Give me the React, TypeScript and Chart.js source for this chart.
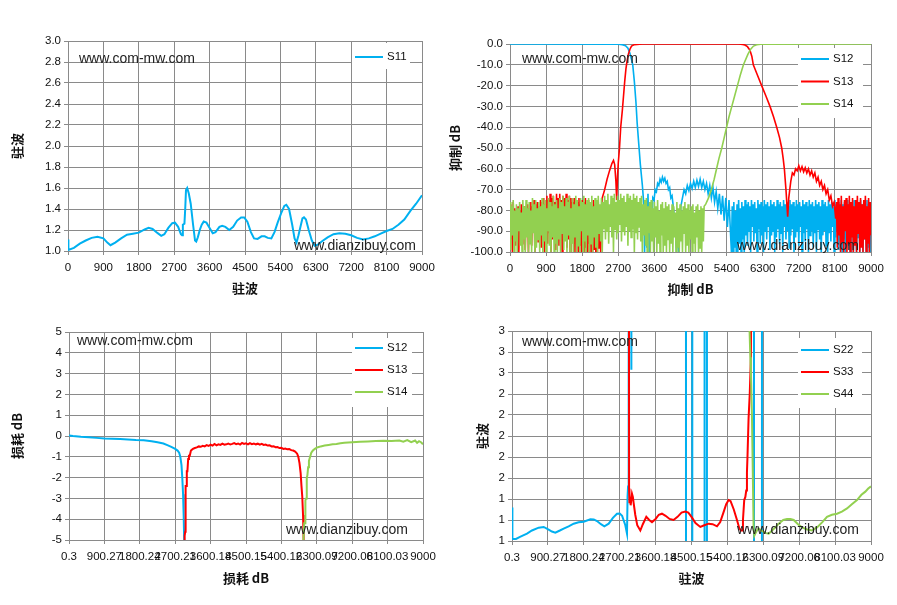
import { useEffect, useRef } from "react";
import { Chart, registerables } from "chart.js";
import type { ChartConfiguration, Plugin } from "chart.js";

Chart.register(...registerables);
Chart.defaults.font.family = '"Liberation Sans", Arial, sans-serif';
Chart.defaults.font.size = 11.5;
Chart.defaults.color = "#111";

const BLUE = "#00B0F0";
const RED = "#FF0000";
const GREEN = "#92D050";
const GRID = "#8A8A8A";
const TITLE_FONT = { family: '"Noto Sans CJK SC", sans-serif', size: 13, weight: "bold" as const };

// tick labels
const mhzLabels = ["0", "900", "1800", "2700", "3600", "4500", "5400", "6300", "7200", "8100", "9000"];
const lossFreqLabels = ["0.3", "900.27", "1800.24", "2700.21", "3600.18", "4500.15", "5400.12", "6300.09", "7200.06", "8100.03", "9000"];
const vswrLabels = ["1", "1", "1", "2", "2", "2", "2", "2", "3", "3", "3"];

// panel 1: S11 vswr  [MHz, vswr]
const s11Vswr = [
  [0, 1.11], [10, 1.01], [150, 1.03], [300, 1.07], [450, 1.1], [600, 1.125], [750, 1.135], [900, 1.12],
  [1000, 1.08], [1080, 1.055], [1200, 1.08], [1350, 1.12], [1500, 1.155], [1650, 1.165], [1800, 1.175],
  [1950, 1.205], [2050, 1.22], [2150, 1.21], [2280, 1.17], [2370, 1.145], [2450, 1.16], [2550, 1.22],
  [2650, 1.265], [2720, 1.27], [2800, 1.23], [2870, 1.16], [2900, 1.15], [2920, 1.25], [2960, 1.26],
  [2980, 1.4], [3000, 1.58], [3030, 1.6], [3070, 1.55], [3120, 1.45], [3180, 1.25], [3230, 1.1],
  [3260, 1.09], [3300, 1.13], [3350, 1.2], [3400, 1.25], [3450, 1.28], [3520, 1.27], [3600, 1.22],
  [3680, 1.17], [3750, 1.18], [3850, 1.23], [3920, 1.24], [4000, 1.23], [4100, 1.2], [4200, 1.23],
  [4300, 1.29], [4400, 1.32], [4480, 1.32], [4560, 1.28], [4650, 1.18], [4730, 1.12], [4820, 1.115],
  [4920, 1.14], [5000, 1.14], [5080, 1.125], [5170, 1.12], [5250, 1.18], [5330, 1.27], [5420, 1.36],
  [5500, 1.43], [5550, 1.44], [5620, 1.4], [5700, 1.25], [5760, 1.12], [5810, 1.08], [5860, 1.15],
  [5910, 1.23], [5960, 1.31], [6000, 1.32], [6050, 1.3], [6120, 1.2], [6200, 1.1], [6270, 1.05],
  [6350, 1.06], [6450, 1.09], [6600, 1.13], [6750, 1.16], [6900, 1.17], [7050, 1.165], [7200, 1.15],
  [7350, 1.125], [7500, 1.11], [7650, 1.12], [7800, 1.14], [7950, 1.165], [8100, 1.19], [8250, 1.21],
  [8400, 1.25], [8550, 1.3], [8700, 1.38], [8850, 1.45], [9000, 1.53],
];

// panel 2: rejection dB
const rejS12Edge = [
  [0, 0], [2700, -0.1], [2800, -0.3], [2880, -0.8], [2940, -2], [2990, -4.5], [3030, -7.5], [3060, -10],
  [3100, -18], [3140, -28], [3170, -38], [3210, -48], [3250, -58], [3300, -68], [3340, -78], [3355, -100],
];
const rejS12Spurs = [-76, -98, -72, -100, -78, -92, -74]; // from 3380, 30 MHz apart
const rejS12Lobe1 = [-75, -70, -71, -67, -68, -65, -66.5, -64, -66, -64.5, -67, -66, -70, -69, -74, -73, -78]; // from 3590, 30 MHz
const rejS12Null = [[4110, -85], [4150, -100], [4180, -90], [4210, -100], [4260, -78]];
const rejS12Lobe2 = [
  -74, -70, -72, -68, -70.5, -67, -69.5, -66, -69, -65.5, -68.5, -65, -69, -66, -70, -67, -72, -68, -74, -69,
  -76, -71, -79, -72, -82, -73, -85, -74, -88, -75, -92,
]; // from 4300, 40 MHz
const rejS12Floor = [
  -100, -78, -100, -76, -98, -80, -100, -77, -100, -75, -96, -79, -100, -76, -94, -78, -100, -75, -92, -77,
  -97, -76, -90, -78, -100, -75, -88, -77, -95, -76, -91, -79, -100, -75, -89, -77, -96, -76, -92, -78,
  -100, -75, -90, -77, -94, -76, -88, -78, -99, -75, -92, -77, -90, -76, -100, -78, -93, -75, -89, -77,
  -96, -76, -91, -78, -100, -75, -88, -77, -94, -76, -90, -78, -98, -75, -92, -77, -89, -76, -100, -78,
  -93, -75, -90, -77, -97, -76, -88, -78, -100, -75, -91, -77, -95, -76, -89, -78, -100, -75, -92, -77,
  -90, -76, -98, -78, -91, -75, -100, -77, -89, -76, -94, -78, -100, -75, -92, -77, -90, -76, -97, -78,
  -100, -75, -91, -77, -95, -76, -88, -78, -100, -75, -93, -77, -90, -76, -99, -78, -92, -75, -100, -77,
  -94, -76, -100, -78, -91, -75, -97, -77, -100, -76, -92, -78, -100, -75, -95, -77, -100, -76, -93, -78,
  -100, -75, -97, -77, -100, -76, -94, -78, -100, -75, -98, -77, -100, -76, -100,
]; // from 5520, 20 MHz

const rejS13Floor = [
  -77, -94, -80, -100, -76, -89, -79, -97, -81, -92, -78, -100, -80, -90, -77, -96, -79, -88, -78, -99,
  -80, -91, -77, -100, -79, -93, -76, -97, -78, -89, -75, -100, -77, -92, -76, -95, -78, -90, -75, -98,
  -76, -93, -74, -100, -77, -90, -73, -96, -75, -91, -72, -100, -74, -94, -73, -89, -76, -99, -72, -92,
  -74, -97, -72, -90, -75, -100, -73, -93, -74, -88, -72, -98, -75, -94, -73, -100, -74, -91, -76, -96,
  -74, -100, -75, -93, -76, -100, -74, -97, -77, -100, -75, -95, -76, -100, -74, -98, -77, -100, -75, -96,
  -76, -100, -78, -100, -75, -99, -77, -100, -79, -100, -76, -98, -78, -100, -80,
]; // from 0, 20 MHz
const rejS13Band = [
  [2300, -74], [2360, -70], [2420, -65], [2480, -61], [2540, -57.5], [2580, -56], [2610, -58], [2640, -66],
  [2660, -75], [2680, -64], [2700, -57], [2730, -50], [2760, -40], [2800, -32], [2830, -25], [2860, -18],
  [2890, -12], [2920, -8], [2950, -5], [2990, -2.5], [3030, -1], [3100, -0.3], [3300, 0], [5700, 0],
  [5800, -0.2], [5858, -0.5], [5920, -1.3], [5983, -3], [6030, -6], [6066, -10], [6170, -15], [6274, -20],
  [6380, -25], [6482, -30], [6570, -35], [6649, -40], [6720, -45], [6774, -50], [6810, -55], [6840, -60],
  [6880, -70], [6923, -83], [6950, -74], [6975, -70],
];
const rejS13Lobe = [
  -66, -62, -63, -60, -61, -58.5, -61, -59, -61.5, -59.5, -62, -60, -63, -61, -64, -62, -66, -64, -68, -66,
  -70, -68, -72, -70, -75, -73, -78, -76,
]; // from 7000, 40 MHz
const rejS13Tail = [
  -84, -76, -98, -74, -92, -77, -100, -73, -95, -78, -100, -75, -90, -74, -100, -77, -96, -73, -100, -76,
  -93, -74, -100, -78, -97, -75, -100, -73, -91, -76, -100, -74, -98, -77, -100, -75, -94, -73, -100, -78,
  -96, -74, -100, -76, -92,
]; // from 8120, 20 MHz

const rejS14Floor = [
  -76, -99, -78, -92, -75, -100, -80, -95, -77, -100, -79, -90, -76, -97, -81, -100, -75, -94, -78, -100,
  -75, -93, -79, -100, -76, -96, -80, -100, -74, -91, -77, -100, -75, -98, -79, -94, -76, -100, -78, -92,
  -74, -100, -77, -95, -75, -100, -79, -90, -74, -97, -76, -100, -78, -93, -73, -100, -77, -96, -75, -100,
  -79, -94, -74, -100, -76, -91, -73, -99, -78, -95, -74, -100, -76, -92, -73, -100, -79, -96, -74, -100,
  -77, -93, -73, -100, -75, -97, -78, -100, -74, -90, -76, -100, -73, -95, -77, -100, -75, -92, -74, -100,
  -76, -96, -73, -100, -78, -93, -74, -98, -75, -100, -73, -91, -77, -95, -74, -100, -76, -89, -73, -94,
  -75, -90, -72, -96, -77, -88, -73, -93, -74, -100, -72, -89, -76, -94, -73, -91, -75, -87, -72, -95,
  -74, -90, -73, -92, -76, -88, -72, -97, -74, -90, -73, -93, -75, -89, -72, -100, -74, -91, -73, -94,
  -76, -88, -74, -95, -73, -100, -77, -92, -75, -97, -74, -100, -78, -91, -76, -100, -75, -95, -79, -100,
  -76, -93, -78, -100, -75, -96, -80, -100, -77, -92, -76, -100, -79, -97, -76, -100, -78, -94, -77, -100,
  -80, -96, -77, -100, -78, -93, -81, -100, -76, -98, -79, -100, -77, -95, -80, -100, -78, -91, -76, -100,
  -79, -97, -77, -100, -80, -94, -78, -100, -77, -96, -81, -100, -78, -93, -77, -100, -80, -98, -78, -100,
  -79, -95, -78,
]; // from 0, 20 MHz
const rejS14Edge = [
  [4880, -77], [4950, -74], [5020, -70], [5090, -65], [5150, -60], [5210, -55], [5280, -50], [5340, -45],
  [5400, -40], [5460, -35], [5530, -30], [5600, -25], [5670, -20], [5740, -15], [5820, -10], [5930, -5],
  [6000, -2.5], [6070, -1], [6150, -0.4], [6250, -0.1], [9000, 0],
];

// panel 3: insertion loss dB
const lossS12 = [
  [0, 0.03], [100, 0], [300, -0.04], [500, -0.06], [700, -0.09], [900, -0.12], [1100, -0.13], [1300, -0.15],
  [1500, -0.17], [1700, -0.19], [1900, -0.2], [2100, -0.25], [2250, -0.3], [2400, -0.36], [2500, -0.44],
  [2600, -0.52], [2700, -0.62], [2760, -0.7], [2800, -0.8], [2830, -1.0], [2860, -1.4], [2880, -2.0],
  [2900, -2.8], [2915, -3.8], [2930, -5.2], [2940, -6],
];
const lossS13 = [
  [2925, -6], [2940, -4.8], [2955, -4.6], [2965, -2.4], [2985, -2.4], [2995, -1.7], [3010, -1.7], [3030, -1.1],
  [3050, -0.95], [3070, -0.95], [3100, -0.7], [3150, -0.62], [3200, -0.58], [3250, -0.55], [3300, -0.5],
  [3350, -0.52], [3400, -0.47], [3450, -0.5], [3500, -0.44], [3550, -0.48], [3600, -0.42], [3650, -0.46],
  [3700, -0.38], [3750, -0.45], [3800, -0.4], [3850, -0.43], [3900, -0.37], [3950, -0.42], [4000, -0.4],
  [4050, -0.36], [4100, -0.41], [4150, -0.38], [4200, -0.34], [4250, -0.39], [4300, -0.36], [4350, -0.41],
  [4400, -0.33], [4450, -0.38], [4500, -0.35], [4550, -0.4], [4600, -0.34], [4650, -0.39], [4700, -0.36],
  [4750, -0.4], [4800, -0.37], [4850, -0.42], [4900, -0.38], [4950, -0.43], [5000, -0.41], [5050, -0.46],
  [5100, -0.45], [5150, -0.5], [5200, -0.49], [5250, -0.54], [5300, -0.53], [5350, -0.58], [5400, -0.57],
  [5450, -0.62], [5500, -0.6], [5550, -0.64], [5600, -0.63], [5650, -0.68], [5700, -0.7], [5750, -0.75],
  [5800, -0.85], [5830, -1.0], [5860, -1.3], [5890, -1.8], [5910, -2.4], [5930, -2.9], [5950, -3.8],
  [5965, -5], [5975, -6],
];
const lossS14 = [
  [5940, -6], [5960, -5], [5980, -4.2], [6000, -4.2], [6010, -3.1], [6030, -3.0], [6045, -2.0], [6060, -1.9],
  [6080, -1.5], [6100, -1.2], [6130, -1.0], [6160, -0.8], [6200, -0.7], [6250, -0.62], [6300, -0.56],
  [6350, -0.53], [6400, -0.5], [6500, -0.46], [6600, -0.43], [6700, -0.4], [6800, -0.38], [6900, -0.35],
  [7000, -0.33], [7100, -0.31], [7200, -0.3], [7400, -0.28], [7600, -0.26], [7800, -0.24], [8000, -0.23],
  [8200, -0.24], [8400, -0.22], [8500, -0.27], [8600, -0.2], [8700, -0.3], [8800, -0.22], [8850, -0.33],
  [8900, -0.25], [8950, -0.3], [9000, -0.4],
];

// panel 4: port vswr (values outside 1..3 run off the plot)
const vswrS22 = [
  [0, 1.32], [10, 1.02], [100, 1.02], [200, 1.04], [376, 1.07], [500, 1.1], [669, 1.127], [794, 1.134],
  [919, 1.108], [1000, 1.09], [1086, 1.08], [1200, 1.1], [1295, 1.118], [1420, 1.14], [1546, 1.165],
  [1670, 1.178], [1797, 1.184], [1964, 1.207], [2050, 1.205], [2131, 1.19], [2230, 1.16], [2315, 1.14],
  [2424, 1.165], [2530, 1.22], [2632, 1.26], [2700, 1.262], [2760, 1.24], [2841, 1.15], [2883, 1.07],
  [2897, 1.42], [2910, 1.52], [2925, 9], [2985, 9], [2990, 2.63], [2995, 9], [4360, 9], [4362, 0.5],
  [4518, 0.5], [4520, 9], [4826, 9], [4828, 0.5], [4887, 0.5], [4889, 9], [6065, 9], [6067, 0.5],
  [6266, 0.5], [6268, 9], [9000, 9],
];
const vswrS33 = [
  [2925, 9], [2935, 1.5], [2945, 1.36], [2960, 1.42], [2975, 1.34], [3008, 1.45], [3030, 1.42], [3050, 1.36],
  [3090, 1.25], [3140, 1.15], [3217, 1.1], [3280, 1.16], [3367, 1.23], [3440, 1.2], [3509, 1.18], [3600, 1.21],
  [3680, 1.25], [3759, 1.26], [3850, 1.24], [3950, 1.21], [4051, 1.2], [4150, 1.23], [4250, 1.27], [4344, 1.28],
  [4420, 1.27], [4500, 1.23], [4600, 1.17], [4721, 1.134], [4820, 1.15], [4930, 1.165], [5030, 1.16],
  [5139, 1.14], [5220, 1.18], [5300, 1.27], [5370, 1.35], [5430, 1.39], [5480, 1.38], [5560, 1.3], [5640, 1.2],
  [5700, 1.12], [5740, 1.1], [5770, 1.1], [5790, 1.2], [5822, 1.39], [5850, 1.42], [5872, 1.48], [5890, 1.65],
  [5905, 1.82], [5931, 2.17], [5960, 2.4], [5990, 2.75], [6015, 9],
];
const vswrS44 = [
  [5940, 9], [5956, 3.0], [5975, 2.75], [5990, 2.6], [6015, 2.2], [6035, 1.7], [6057, 1.12], [6075, 1.05],
  [6100, 1.07], [6140, 1.1], [6184, 1.12], [6250, 1.1], [6310, 1.086], [6370, 1.075], [6435, 1.07], [6520, 1.1],
  [6602, 1.13], [6700, 1.17], [6800, 1.2], [6895, 1.21], [6980, 1.21], [7062, 1.2], [7170, 1.16], [7271, 1.13],
  [7400, 1.11], [7521, 1.1], [7600, 1.12], [7647, 1.13], [7780, 1.18], [7897, 1.23], [8020, 1.25], [8148, 1.26],
  [8270, 1.28], [8399, 1.31], [8520, 1.35], [8649, 1.39], [8760, 1.44], [8858, 1.47], [8930, 1.5], [9000, 1.52],
];

type Pt = { x: number; y: number };
const toPoints = (pairs: number[][]): Pt[] => pairs.map(([x, y]) => ({ x, y }));
const onGrid = (start: number, step: number, values: number[]): Pt[] =>
  values.map((y, i) => ({ x: start + i * step, y }));

interface Line { label: string; color: string; points: Pt[] }
interface Mark { text: string; fromRight: boolean; dx: number; fromBottom: boolean; dy: number }
interface PanelSpec {
  left: number; top: number; width: number; height: number;
  area: { left: number; top: number; right: number; bottom: number };
  lines: Line[];
  lineWidth: number;
  yMin: number; yMax: number; yStep: number;
  yTick: (v: number, i: number) => string;
  xTick: (i: number) => string;
  title: string;
  yTitlePad: number; xTitlePad: number;
  legend: { dx: number; dy: number; w: number; h: number; row0: number; gap: number };
  marks: Mark[];
}

const topMark = (dx: number, dy: number): Mark => ({ text: "www.com-mw.com", fromRight: false, dx, fromBottom: false, dy });
const bottomMark = (dx: number, dy: number): Mark => ({ text: "www.dianzibuy.com", fromRight: true, dx, fromBottom: true, dy });

const panels: PanelSpec[] = [
  {
    left: 0, top: 28, width: 450, height: 277,
    area: { left: 68, top: 13, right: 422, bottom: 223 },
    lines: [{ label: "S11", color: BLUE, points: toPoints(s11Vswr) }],
    lineWidth: 2,
    yMin: 1, yMax: 3, yStep: 0.2,
    yTick: (v) => v.toFixed(1),
    xTick: (i) => mhzLabels[i],
    title: "驻波",
    yTitlePad: 9, xTitlePad: 9,
    legend: { dx: -70, dy: 2, w: 58, h: 26, row0: 14, gap: 22 },
    marks: [topMark(11, 18), bottomMark(-128, -5)],
  },
  {
    left: 440, top: 28, width: 457, height: 277,
    area: { left: 70, top: 16, right: 431, bottom: 224 },
    lines: [
      { label: "S12", color: BLUE, points: [
        ...toPoints(rejS12Edge), ...onGrid(3380, 30, rejS12Spurs), ...onGrid(3590, 30, rejS12Lobe1),
        ...toPoints(rejS12Null), ...onGrid(4300, 40, rejS12Lobe2), ...onGrid(5520, 20, rejS12Floor),
      ] },
      { label: "S13", color: RED, points: [
        ...onGrid(0, 20, rejS13Floor), ...toPoints(rejS13Band), ...onGrid(7000, 40, rejS13Lobe), ...onGrid(8120, 20, rejS13Tail),
      ] },
      { label: "S14", color: GREEN, points: [...onGrid(0, 20, rejS14Floor), ...toPoints(rejS14Edge)] },
    ],
    lineWidth: 1.6,
    yMin: -100, yMax: 0, yStep: 10,
    yTick: (v) => v.toFixed(1),
    xTick: (i) => mhzLabels[i],
    title: "抑制 dB",
    yTitlePad: 7, xTitlePad: 8,
    legend: { dx: -73, dy: 4, w: 65, h: 70, row0: 11, gap: 22.5 },
    marks: [topMark(12, 15), bottomMark(-134, -6)],
  },
  {
    left: 0, top: 318, width: 450, height: 287,
    area: { left: 69, top: 14, right: 423, bottom: 222 },
    lines: [
      { label: "S12", color: BLUE, points: toPoints(lossS12) },
      { label: "S13", color: RED, points: toPoints(lossS13) },
      { label: "S14", color: GREEN, points: toPoints(lossS14) },
    ],
    lineWidth: 2,
    yMin: -5, yMax: 5, yStep: 1,
    yTick: (v) => String(v),
    xTick: (i) => lossFreqLabels[i],
    title: "损耗 dB",
    yTitlePad: 9, xTitlePad: 19,
    legend: { dx: -71, dy: 6, w: 60, h: 69, row0: 10, gap: 22 },
    marks: [topMark(8, 9), bottomMark(-137, -10)],
  },
  {
    left: 450, top: 318, width: 447, height: 287,
    area: { left: 62, top: 13, right: 421, bottom: 223 },
    lines: [
      { label: "S22", color: BLUE, points: toPoints(vswrS22) },
      { label: "S33", color: RED, points: toPoints(vswrS33) },
      { label: "S44", color: GREEN, points: toPoints(vswrS44) },
    ],
    lineWidth: 2,
    yMin: 1, yMax: 3, yStep: 0.2,
    yTick: (_v, i) => vswrLabels[i],
    xTick: (i) => lossFreqLabels[i],
    title: "驻波",
    yTitlePad: 24, xTitlePad: 19,
    legend: { dx: -73, dy: 7, w: 64, h: 70, row0: 12, gap: 22 },
    marks: [topMark(10, 11), bottomMark(-134, -11)],
  },
];

function makeDecor(spec: PanelSpec): Plugin<"line"> {
  return {
    id: "decor",
    afterDraw(chart) {
      const { ctx, chartArea: a } = chart;
      ctx.save();
      ctx.font = '14px "Liberation Sans", Arial, sans-serif';
      ctx.fillStyle = "#222";
      ctx.textBaseline = "middle";
      ctx.textAlign = "left";
      spec.marks.forEach((m) => {
        const x = m.fromRight ? a.right + m.dx : a.left + m.dx;
        const y = m.fromBottom ? a.bottom + m.dy : a.top + m.dy;
        ctx.fillText(m.text, x, y);
      });
      const L = spec.legend;
      const bx = a.right + L.dx;
      const by = a.top + L.dy;
      ctx.fillStyle = "#fff";
      ctx.fillRect(bx, by, L.w, L.h);
      ctx.font = '11.5px "Liberation Sans", Arial, sans-serif';
      spec.lines.forEach((ln, i) => {
        const y = by + L.row0 + i * L.gap;
        ctx.strokeStyle = ln.color;
        ctx.lineWidth = 2;
        ctx.beginPath();
        ctx.moveTo(bx + 3, y);
        ctx.lineTo(bx + 31, y);
        ctx.stroke();
        ctx.fillStyle = "#111";
        ctx.fillText(ln.label, bx + 35, y);
      });
      ctx.restore();
    },
  };
}

function makeConfig(spec: PanelSpec): ChartConfiguration<"line"> {
  const { area } = spec;
  return {
    type: "line",
    data: {
      datasets: spec.lines.map((ln, i) => ({
        label: ln.label,
        data: ln.points,
        borderColor: ln.color,
        backgroundColor: ln.color,
        borderWidth: spec.lineWidth,
        pointRadius: 0,
        tension: 0,
        fill: false,
        order: spec.lines.length - i,
      })),
    },
    options: {
      responsive: false,
      animation: false,
      events: [],
      layout: { padding: { left: 0, top: area.top, right: spec.width - area.right, bottom: 0 } },
      plugins: { legend: { display: false }, tooltip: { enabled: false } },
      scales: {
        x: {
          type: "linear",
          min: 0,
          max: 9000,
          afterFit: (s) => { s.height = spec.height - area.bottom; },
          ticks: {
            stepSize: 900, autoSkip: false, maxRotation: 0, minRotation: 0, padding: 6,
            callback: (_v, i) => spec.xTick(i),
          },
          grid: { color: GRID, tickLength: 4 },
          border: { color: GRID },
          title: { display: true, text: spec.title, font: TITLE_FONT, color: "#111", padding: { top: 0, bottom: spec.xTitlePad } },
        },
        y: {
          type: "linear",
          min: spec.yMin,
          max: spec.yMax,
          afterFit: (s) => { s.width = area.left; },
          ticks: { stepSize: spec.yStep, padding: 3, callback: (v, i) => spec.yTick(Number(v), i) },
          grid: { color: GRID, tickLength: 4 },
          border: { color: GRID },
          title: { display: true, text: spec.title, font: TITLE_FONT, color: "#111", padding: { top: spec.yTitlePad, bottom: 0 } },
        },
      },
    },
    plugins: [makeDecor(spec)],
  };
}

function Panel({ spec }: { spec: PanelSpec }) {
  const ref = useRef<HTMLCanvasElement | null>(null);
  useEffect(() => {
    if (!ref.current) return;
    const chart = new Chart(ref.current, makeConfig(spec));
    return () => chart.destroy();
  }, [spec]);
  return (
    <canvas
      ref={ref}
      width={spec.width}
      height={spec.height}
      style={{ position: "absolute", left: spec.left, top: spec.top, width: spec.width, height: spec.height }}
    />
  );
}

export default function App() {
  return (
    <div style={{ position: "absolute", left: 0, top: 0, width: 897, height: 605, background: "#fff" }}>
      {panels.map((p, i) => <Panel key={i} spec={p} />)}
    </div>
  );
}
